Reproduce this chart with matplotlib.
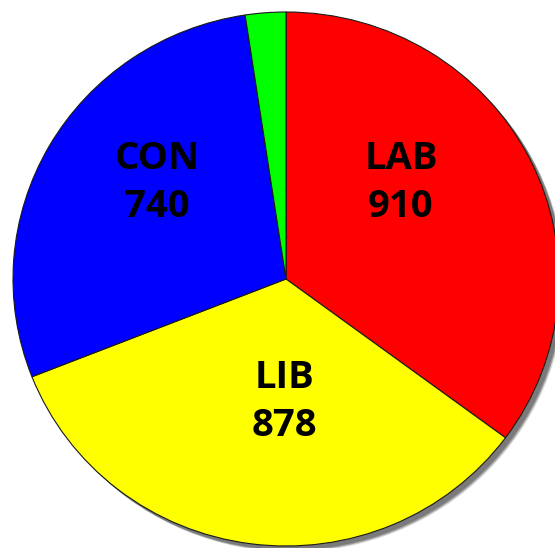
import matplotlib
matplotlib.use("Agg")
import matplotlib.pyplot as plt
from matplotlib.patches import Ellipse

# ---- data ----
categories = ["LAB", "LIB", "CON", "OTH"]
values = [910, 878, 740, 62]
colors = ["#FF0000", "#FFFF00", "#0000FF", "#00FF00"]
show_label = [True, True, True, False]

# ---- layout (pixels) ----
W, H = 555, 548
cx, cy = 286, 279          # pie centre (from top-left)
rx, ry = 273, 267          # horizontal / vertical radius
label_px = {"LAB": (401, 183), "LIB": (284, 402), "CON": (157, 183)}

fig = plt.figure(figsize=(W / 100, H / 100), dpi=100)
ax = fig.add_axes([0, 0, 1, 1])

# shadow (slightly blurred)
for off, col, a in [(6, "#808080", 0.3), (5, "#808080", 0.7), (4, "#7a7a7a", 1.0)]:
    ax.add_patch(Ellipse((off / rx, -off / ry), 2, 2, facecolor=col,
                         edgecolor="none", alpha=a, zorder=0))

wedges, _ = ax.pie(values, colors=colors, startangle=90, counterclock=False,
                   radius=1, center=(0, 0),
                   wedgeprops=dict(edgecolor="#1a1a1a", linewidth=0.8))
for w in wedges:
    w.set_zorder(2)

ax.set_aspect("auto")
ax.set_xlim(-cx / rx, (W - cx) / rx)
ax.set_ylim(-(H - cy) / ry, cy / ry)
ax.axis("off")

for cat, val, show in zip(categories, values, show_label):
    if not show:
        continue
    px, py = label_px[cat]
    x = (px - cx) / rx
    y = (cy - py) / ry
    ax.text(x, y, f"{cat}\n{val}", ha="center", va="center",
            fontsize=27.5, fontweight="bold", family=["Open Sans", "DejaVu Sans"],
            linespacing=1.32, color="black", zorder=3)

fig.savefig("out.png", dpi=100)
